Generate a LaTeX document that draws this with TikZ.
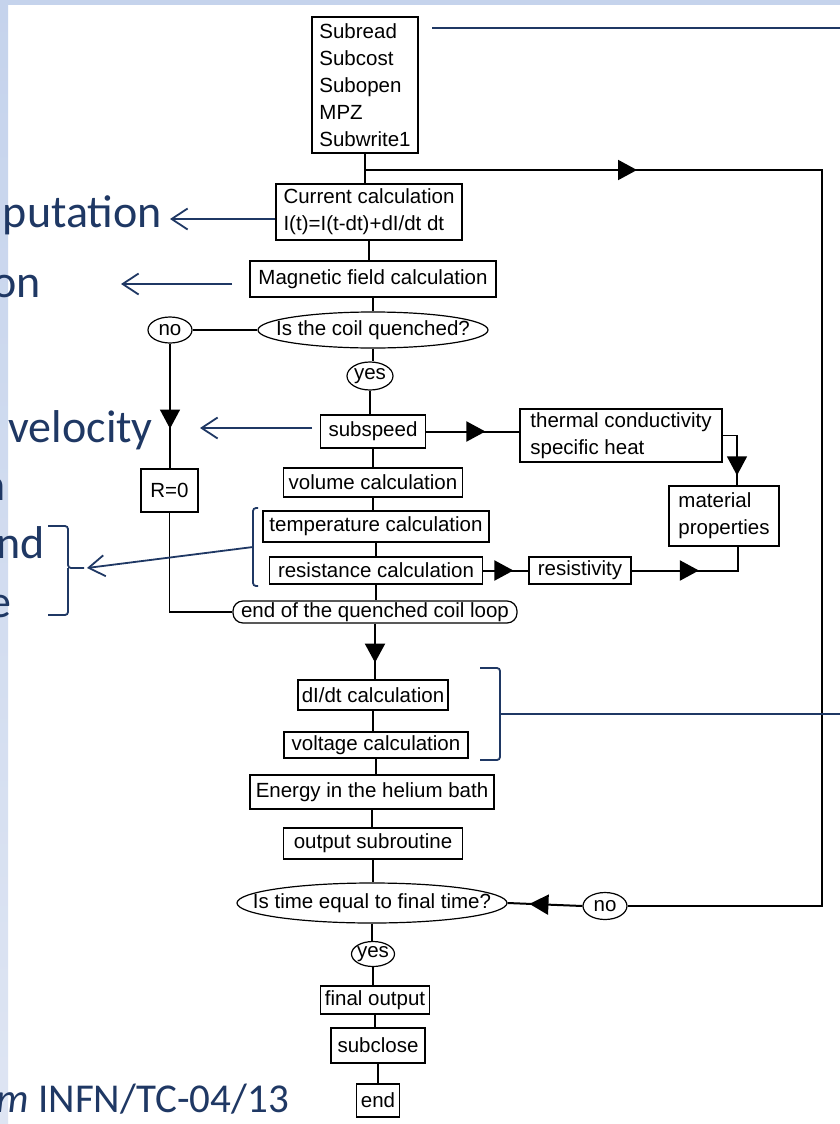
\documentclass[tikz,border=0pt]{standalone}
\usepackage{fontspec}
\setmainfont{Liberation Sans}
\newfontfamily\slidefont{Carlito}
\usetikzlibrary{arrows.meta,shapes.geometric,decorations.markings}
\definecolor{navy}{RGB}{31,56,100}
\definecolor{stripA}{RGB}{197,211,236}
\definecolor{stripB}{RGB}{222,229,243}
\begin{document}
\begin{tikzpicture}[x=1pt,y=-1pt,
  every node/.style={font=\fontsize{20.5}{27}\selectfont, inner sep=0pt},
  box/.style 2 args={draw, line width=1.8pt, minimum width=#1, minimum height=#2},
  dec/.style 2 args={draw, ellipse, line width=1.2pt, minimum width=#1, minimum height=#2},
  loopbox/.style 2 args={draw, rounded corners=10pt, line width=1.2pt, minimum width=#1, minimum height=#2},
  flow/.style={line width=2pt},
  thinflow/.style={line width=1.3pt},
  midtri/.style={postaction={decorate}, decoration={markings, mark=at position #1 with {\arrow{Triangle[length=19pt,width=20pt]}}}},
  note/.style={draw=navy, line width=1.8pt, -{Straight Barb[length=16pt,width=21pt,line width=1.8pt]}},
  noteline/.style={draw=navy, line width=1.8pt},
  brace/.style={draw=navy, line width=1.8pt, rounded corners=3pt},
  big/.style={text=navy, font=\slidefont\fontsize{46}{52}\selectfont, anchor=base east},
]
\useasboundingbox (0,0) rectangle (840,1124);
\clip (0,0) rectangle (840,1124);
\fill[white] (0,0) rectangle (840,1124);
% slide background strips
\shade[top color=stripA, bottom color=stripB] (0,0) rectangle (8,1124);
\fill[stripA] (0,0) rectangle (840,5);

% slide texts (clipped at the left edge)
\node[big] (t1) at (162,227) {putation};
\node[big] (t2) at (41,297) {on};
\node[big] (t3) at (153,442) {velocity};
\node[big] (t4) at (6,500) {n};
\node[big] (t5) at (45,558) {nd};
\node[big] (t6) at (12,617) {e};
\node[big, font=\slidefont\fontsize{41}{48}\selectfont] (t7) at (289,1112) {{\itshape m} INFN/TC-04/13};

% flowchart nodes
\node[box={106pt}{136pt}, align=left] (subs) at (365,85) {Subread\\Subcost\\Subopen\\MPZ\\Subwrite1};
\node[box={186pt}{56pt}, align=left] (cur) at (369,212) {Current calculation\\I(t)=I(t-dt)+dI/dt dt};
\node[box={246pt}{36pt}] (mag) at (373,279) {Magnetic field calculation};
\node[dec={230pt}{36pt}] (q) at (373,330) {\makebox[0pt]{Is the coil quenched?}};
\node[dec={44pt}{26pt}] (no1) at (170,330) {\makebox[0pt]{no}};
\node[dec={46pt}{28pt}] (yes1) at (370,376) {\makebox[0pt]{yes}};
\node[box={105pt}{33pt}] (sp) at (373,431.5) {subspeed};
\node[box={202pt}{53pt}, align=left] (th) at (621,435.5) {thermal conductivity\\specific heat};
\node[box={110pt}{60pt}, align=left] (mat) at (724,516) {material\\properties};
\node[box={179pt}{29pt}] (vol) at (373,482.5) {volume calculation};
\node[box={226pt}{31pt}] (temp) at (376,526.5) {temperature calculation};
\node[box={213pt}{27pt}] (res) at (376,570.5) {resistance calculation};
\node[box={102pt}{27pt}] (rsv) at (580,570.5) {resistivity};
\node[box={57pt}{43pt}] (r0) at (169.5,490.5) {R=0};
\node[loopbox={284pt}{22pt}] (endq) at (375,612) {end of the quenched coil loop};
\node[box={150pt}{30pt}] (didt) at (373,695) {dI/dt calculation};
\node[box={184pt}{26pt}] (volt) at (376,745) {voltage calculation};
\node[box={244pt}{34pt}] (en) at (372,792) {Energy in the helium bath};
\node[box={179pt}{31pt}] (out) at (373,843.5) {output subroutine};
\node[dec={270pt}{40pt}] (tq) at (372,903) {\makebox[0pt]{Is time equal to final time?}};
\node[dec={44pt}{27pt}] (no2) at (605,906) {\makebox[0pt]{no}};
\node[dec={43pt}{25pt}] (yes2) at (373,954) {\makebox[0pt]{yes}};
\node[box={109pt}{28pt}] (fin) at (375,1000) {final output};
\node[box={94pt}{35pt}] (cls) at (378,1045.5) {subclose};
\node[box={43pt}{33pt}] (end) at (378,1100.5) {end};

% coordinates for free ends and bends
\coordinate (j) at (365,170);
\coordinate (rc) at (822,170);
\coordinate (matin) at (737,486);
\coordinate (matout) at (738,546);

% main flow
\draw[flow] (subs.south) -- (subs.south |- cur.north);
\draw[flow] (cur.south) -- (cur.south |- mag.north);
\draw[flow] (mag.south) -- (mag.south |- q.north);
\draw[flow] (q.south) -- (q.south |- yes1.north);
\draw[flow] (yes1.south) -- (yes1.south |- sp.north);
\draw[flow] (sp.south) -- (sp.south |- vol.north);
\draw[flow] (vol.south) -- (vol.south |- temp.north);
\draw[flow] (temp.south) -- (temp.south |- res.north);
\draw[flow] (res.south) -- (res.south |- endq.north);
\draw[flow, midtri=39pt] (endq.south) -- (endq.south |- didt.north);
\draw[flow] (didt.south) -- (didt.south |- volt.north);
\draw[flow] (volt.south) -- (volt.south |- en.north);
\draw[flow] (en.south) -- (en.south |- out.north);
\draw[flow] (out.south) -- (out.south |- tq.north);
\draw[flow] (tq.south) -- (tq.south |- yes2.north);
\draw[flow] (yes2.south) -- (yes2.south |- fin.north);
\draw[flow] (fin.south) -- (fin.south |- cls.north);
\draw[flow] (cls.south) -- (cls.south |- end.north);

% quench branch
\draw[thinflow] (q.west) -- (no1.east);
\draw[thinflow, midtri=85pt] (no1.south) -- (no1.south |- r0.north);
\draw[thinflow] (r0.south) |- (endq.west);

% material properties
\draw[flow, midtri=59pt] (sp.east) -- (th.west |- sp.east);
\draw[thinflow, midtri=54pt] (th.east) -| (matin);
\draw[flow, midtri=30pt] (res.east) -- (rsv.west);
\draw[flow, midtri=67pt] (rsv.east) -| (matout);

% time loop
\draw[flow, midtri=53pt] (no2.west) -- (tq.east);
\draw[flow, midtri=272pt] (j) -- (rc) |- (no2.east);

% slide annotations
\coordinate (a1e) at (170,219);
\draw[note] (cur.west |- a1e) -- (a1e);
\coordinate (a2s) at (232,284);
\coordinate (a2e) at (121,284);
\draw[note] (a2s) -- (a2e);
\coordinate (a3s) at (312,428);
\coordinate (a3e) at (200,428);
\draw[note] (a3s) -- (a3e);
\coordinate (bk) at (253,547);
\coordinate (b4) at (87,568);
\draw[brace] (258,508) -| (bk) |- (258,586);
\draw[note] (bk) -- (b4);
\draw[brace] (48,526) -| (68,568) -- (84,568);
\draw[brace] (48,615) -| (68,568);
\coordinate (br2) at (500,714);
\coordinate (re) at (845,714);
\draw[brace] (480,668) -| (br2);
\draw[brace] (480,760) -| (br2);
\draw[noteline] (br2) -- (re);
\coordinate (tl) at (432,28);
\coordinate (tr) at (845,28);
\draw[noteline] (tl) -- (tr);
\end{tikzpicture}
\end{document}
